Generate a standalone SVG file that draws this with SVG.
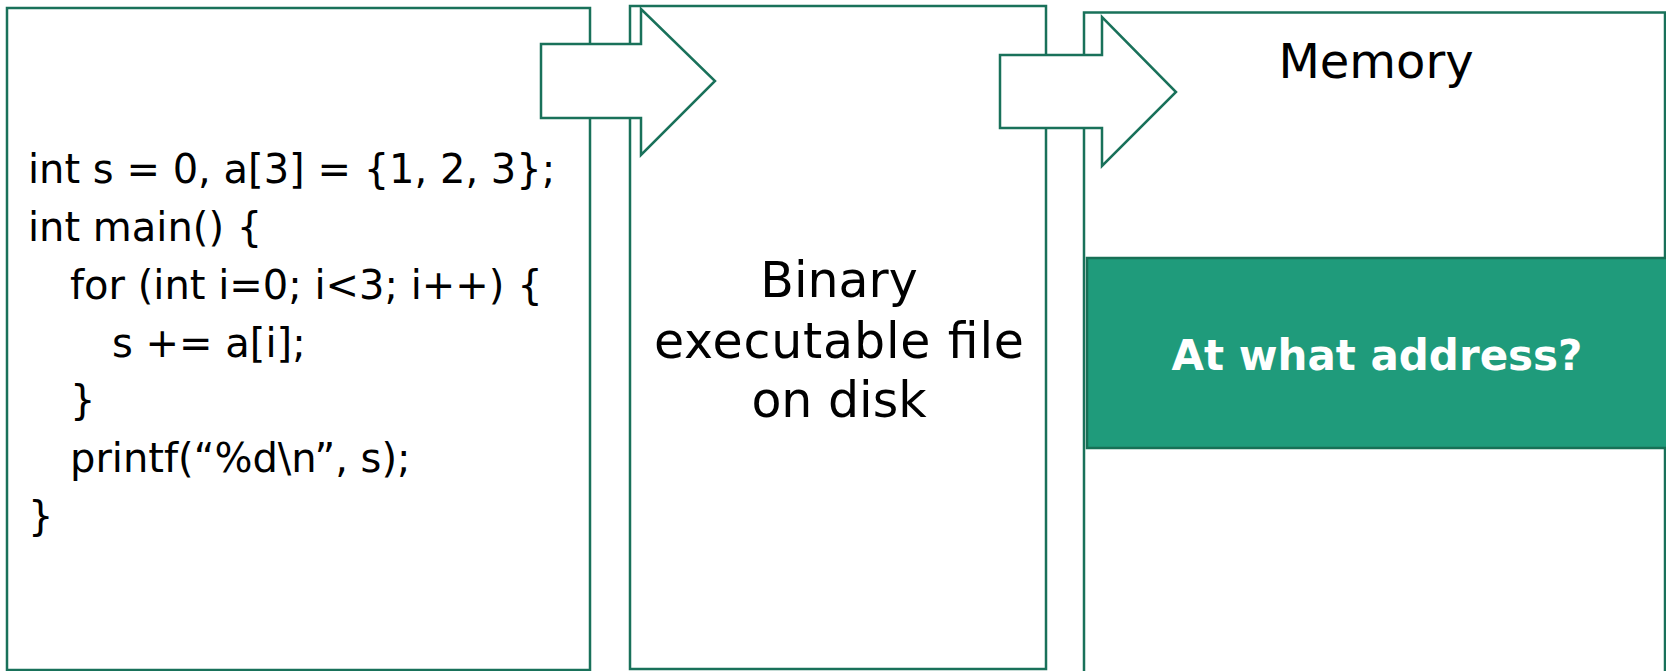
<svg xmlns="http://www.w3.org/2000/svg" width="1666" height="671" viewBox="0 0 1666 671">
  <style>
    .box { fill: #ffffff; stroke: #19715a; stroke-width: 2.5; }
    .slot { fill: #1f9b7b; stroke: #177056; stroke-width: 2.5; }
    .flow { fill: #ffffff; stroke: #19715a; stroke-width: 2.5; stroke-linejoin: miter; }
    .code { font-family: "DejaVu Sans", "Liberation Sans", sans-serif; font-size: 40px; fill: #000000; }
    .label { font-family: "DejaVu Sans", "Liberation Sans", sans-serif; font-size: 49px; fill: #000000; text-anchor: middle; }
    .slot-label { font-family: "DejaVu Sans", "Liberation Sans", sans-serif; font-size: 42px; font-weight: bold; fill: #ffffff; text-anchor: middle; }
  </style>

  <rect x="0" y="0" width="1666" height="671" fill="#ffffff"/>

  <!-- C source program -->
  <g id="source">
    <rect class="box" x="7" y="8" width="583" height="662"/>
    <text class="code" x="28" y="183">int s = 0, a[3] = {1, 2, 3};</text>
    <text class="code" x="28" y="241">int main() {</text>
    <text class="code" x="70" y="299">for (int i=0; i&lt;3; i++) {</text>
    <text class="code" x="112" y="357">s += a[i];</text>
    <text class="code" x="70" y="414">}</text>
    <text class="code" x="70" y="472">printf(“%d\n”, s);</text>
    <text class="code" x="28" y="530">}</text>
  </g>

  <!-- compiled program stored on disk -->
  <g id="binary">
    <rect class="box" x="630" y="6" width="416" height="663"/>
    <text class="label" x="839" y="297">Binary</text>
    <text class="label" x="839" y="358" textLength="370" lengthAdjust="spacing">executable file</text>
    <text class="label" x="839" y="417">on disk</text>
  </g>

  <!-- process memory -->
  <g id="memory">
    <rect class="box" x="1084" y="12.5" width="581" height="670"/>
    <text class="label" x="1376" y="78" style="font-size:48px">Memory</text>
  </g>

  <!-- region the program is loaded into -->
  <g id="load-region">
    <rect class="slot" x="1087" y="258" width="582" height="190"/>
    <text class="slot-label" x="1377" y="370">At what address?</text>
  </g>

  <!-- block arrows between stages -->
  <g id="connectors">
    <polygon class="flow" points="541,44 641,44 641,9 715,81 641,155 641,118 541,118"/>
    <polygon class="flow" points="1000,55 1102,55 1102,17 1176,92 1102,166 1102,128 1000,128"/>
  </g>
</svg>
